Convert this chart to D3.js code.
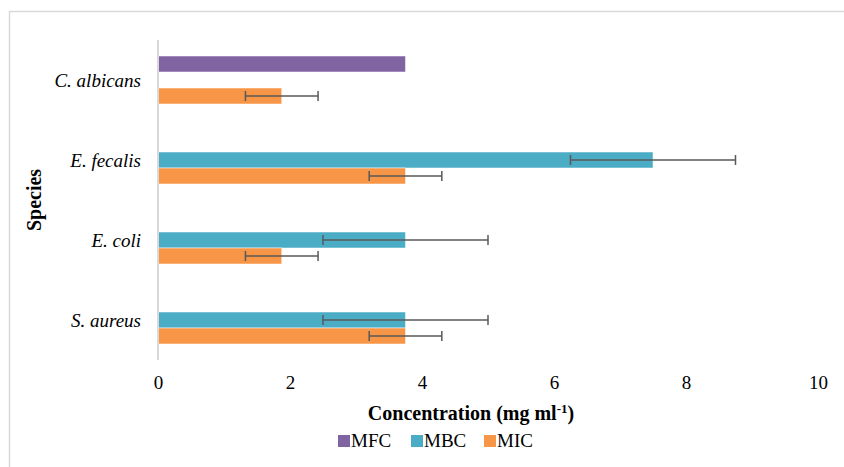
<!DOCTYPE html>
<html>
<head>
<meta charset="utf-8">
<script src="https://cdn.jsdelivr.net/npm/d3@7"></script>
<style>
	body { margin: 0; background: #fff; }
	svg text { font-family: "Liberation Serif", "Times New Roman", serif !important; fill: #000; }
</style>
</head>
<body>
<svg></svg>
<script>
var species = ['C. albicans', 'E. fecalis', 'E. coli', 'S. aureus'];
var seriesNames = ['MFC', 'MBC', 'MIC'];
var mfc = [3.75, null, null, null];
var mfcErr = [null, null, null, null];
var mbc = [null, 7.5, 3.75, 3.75];
var mbcErr = [null, 1.25, 1.25, 1.25];
var mic = [1.875, 3.75, 1.875, 3.75];
var micErr = [0.55, 0.55, 0.55, 0.55];
var xTicks = [0, 2, 4, 6, 8, 10];

var colors = { MFC: '#8064A2', MBC: '#4BACC6', MIC: '#F79646' };
var serif = '"Liberation Serif", "Times New Roman", serif';

var width = 844;
var height = 467;
var margin = { top: 40, right: 26, bottom: 107, left: 158 };

var svg = d3.select('svg')
	.attr('width', width)
	.attr('height', height);

// chart frame (only top and left edges are in view)
svg.append('path')
	.attr('d', `M9.5,${height} V11.5 H${width}`)
	.attr('fill', 'none')
	.attr('stroke', '#d9d9d9')
	.attr('stroke-width', 1.5);

var x = d3.scaleLinear()
	.domain([0, 10])
	.range([margin.left, width - margin.right]);

var y = d3.scaleBand()
	.domain(species)
	.range([margin.top, height - margin.bottom])
	.paddingInner(0.4)
	.paddingOuter(0.2);

var y1 = d3.scaleBand()
	.domain(seriesNames)
	.range([0, y.bandwidth()]);

var rows = [];
species.forEach(function(s, i) {
	rows.push({ sp: s, series: 'MFC', value: mfc[i], err: mfcErr[i] });
	rows.push({ sp: s, series: 'MBC', value: mbc[i], err: mbcErr[i] });
	rows.push({ sp: s, series: 'MIC', value: mic[i], err: micErr[i] });
});
rows = rows.filter(d => d.value != null);

// x axis labels only
var xAxis = d3.axisBottom(x)
	.tickValues(xTicks)
	.tickSize(0)
	.tickPadding(0);

var gx = svg.append('g')
	.attr('transform', `translate(0, 389)`)
	.call(xAxis)
	.attr('font-family', null)
	.attr('font-size', null);
gx.select('.domain').remove();
gx.selectAll('text')
	.attr('dy', 0)
	.style('font-family', serif)
	.style('font-size', '19px')
	.attr('fill', '#000');

// bars
svg.append('g')
	.selectAll('rect')
	.data(rows)
	.join('rect')
	.attr('x', x(0))
	.attr('y', d => y(d.sp) + y1(d.series))
	.attr('width', d => x(d.value) - x(0))
	.attr('height', y1.bandwidth())
	.attr('fill', d => colors[d.series])
	.attr('stroke', '#fff')
	.attr('stroke-opacity', 0.5)
	.attr('stroke-width', 1);

// error bars
var errRows = rows.filter(d => d.err != null);
var eg = svg.append('g')
	.attr('stroke', '#595959')
	.attr('stroke-width', 1.5);

eg.selectAll('line.whisker')
	.data(errRows)
	.join('line')
	.attr('class', 'whisker')
	.attr('x1', d => x(d.value - d.err))
	.attr('x2', d => x(d.value + d.err))
	.attr('y1', d => y(d.sp) + y1(d.series) + y1.bandwidth() / 2)
	.attr('y2', d => y(d.sp) + y1(d.series) + y1.bandwidth() / 2);

[-1, 1].forEach(function(sign) {
	eg.selectAll('line.cap' + (sign > 0 ? 'r' : 'l'))
		.data(errRows)
		.join('line')
		.attr('class', 'cap' + (sign > 0 ? 'r' : 'l'))
		.attr('x1', d => x(d.value + sign * d.err))
		.attr('x2', d => x(d.value + sign * d.err))
		.attr('y1', d => y(d.sp) + y1(d.series) + y1.bandwidth() / 2 - 5)
		.attr('y2', d => y(d.sp) + y1(d.series) + y1.bandwidth() / 2 + 5);
});

// vertical axis line
svg.append('line')
	.attr('x1', x(0))
	.attr('x2', x(0))
	.attr('y1', margin.top)
	.attr('y2', height - margin.bottom)
	.attr('stroke', '#d9d9d9')
	.attr('stroke-width', 2);

// category labels
svg.append('g')
	.selectAll('text')
	.data(species)
	.join('text')
	.attr('x', 141)
	.attr('y', d => y(d) + y.bandwidth() / 2)
	.attr('dy', '0.35em')
	.attr('text-anchor', 'end')
	.style('font-family', serif)
	.style('font-style', 'italic')
	.style('font-size', '19px')
	.text(d => d);

// axis titles
var title = svg.append('text')
	.attr('x', 471)
	.attr('y', 420)
	.attr('text-anchor', 'middle')
	.style('font-family', serif)
	.style('font-weight', 'bold')
	.style('font-size', '20px');
title.append('tspan').text('Concentration (mg ml');
title.append('tspan').attr('dy', -7).style('font-size', '13px').text('-1');
title.append('tspan').attr('dy', 7).text(')');

svg.append('text')
	.attr('transform', `translate(41, ${(margin.top + height - margin.bottom) / 2}) rotate(-90)`)
	.attr('text-anchor', 'middle')
	.style('font-family', serif)
	.style('font-weight', 'bold')
	.style('font-size', '20px')
	.text('Species');

// legend
var legendX = [338, 411, 484];
var lg = svg.append('g')
	.selectAll('g')
	.data(seriesNames)
	.join('g')
	.attr('transform', (d, i) => `translate(${legendX[i]}, 447)`);

lg.append('rect')
	.attr('x', 0)
	.attr('y', -12)
	.attr('width', 12)
	.attr('height', 12)
	.attr('fill', d => colors[d]);

lg.append('text')
	.attr('x', 13)
	.attr('y', 0)
	.style('font-family', serif)
	.style('font-size', '19px')
	.text(d => d);
</script>
</body>
</html>
